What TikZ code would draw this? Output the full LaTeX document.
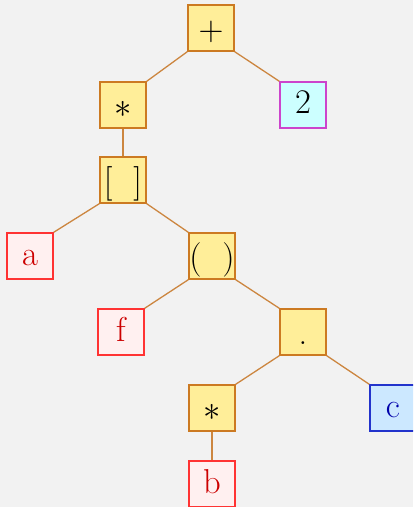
\documentclass[tikz,border=0pt]{standalone}
\usepackage{xcolor}
\usepackage{tikz}
\usetikzlibrary{positioning}

\definecolor{bgray}{HTML}{F2F2F2}
\definecolor{opfill}{HTML}{FFEE99}
\definecolor{opdraw}{HTML}{CC7A22}
\definecolor{edgecol}{HTML}{CC8640}
\definecolor{idfill}{HTML}{FFF0F0}
\definecolor{iddraw}{HTML}{FF3333}
\definecolor{idtext}{HTML}{CC0000}
\definecolor{numfill}{HTML}{CCFFFF}
\definecolor{numdraw}{HTML}{CC44CC}
\definecolor{fldfill}{HTML}{CCE8FF}
\definecolor{flddraw}{HTML}{2233CC}
\definecolor{fldtext}{HTML}{0000AA}

\begin{document}
\begin{tikzpicture}[
  x=0.5pt, y=-0.5pt,
  tnode/.style={draw, line width=0.75pt, minimum size=23pt, inner sep=0pt,
                text height=9pt, text depth=0pt, font=\LARGE},
  op/.style={tnode, fill=opfill, draw=opdraw, text height=12.5pt},
  ident/.style={tnode, fill=idfill, draw=iddraw, text=idtext},
  num/.style={tnode, fill=numfill, draw=numdraw},
  fld/.style={tnode, fill=fldfill, draw=flddraw, text=fldtext},
  edge/.style={draw=edgecol, line width=0.65pt}
]
  \fill[bgray] (0,0) rectangle (413,507);
  \clip (0,0) rectangle (413,507);

  \node[op]    (plus)  at (211, 28) {$+$};
  \node[op]    (mul)   at (123,105) {$*$};
  \node[num]   (two)   at (303,105) {2};
  \node[op]    (index) at (123,180) {[\hspace{0.6em}]};
  \node[ident] (a)     at ( 30,256) {a};
  \node[op]    (call)  at (212,256) {(\hspace{0.6em})};
  \node[ident] (f)     at (121,332) {f};
  \node[op]    (dot)   at (303,332) {.};
  \node[op]    (deref) at (212,408) {$*$};
  \node[fld]   (c)     at (393,408) {c};
  \node[ident] (b)     at (212,484) {b};

  \draw[edge] (plus.south west)  -- (mul.north east);
  \draw[edge] (plus.south east)  -- (two.north west);
  \draw[edge] (mul.south)        -- (index.north);
  \draw[edge] (index.south west) -- (a.north east);
  \draw[edge] (index.south east) -- (call.north west);
  \draw[edge] (call.south west)  -- (f.north east);
  \draw[edge] (call.south east)  -- (dot.north west);
  \draw[edge] (dot.south west)   -- (deref.north east);
  \draw[edge] (dot.south east)   -- (c.north west);
  \draw[edge] (deref.south)      -- (b.north);
\end{tikzpicture}
\end{document}
